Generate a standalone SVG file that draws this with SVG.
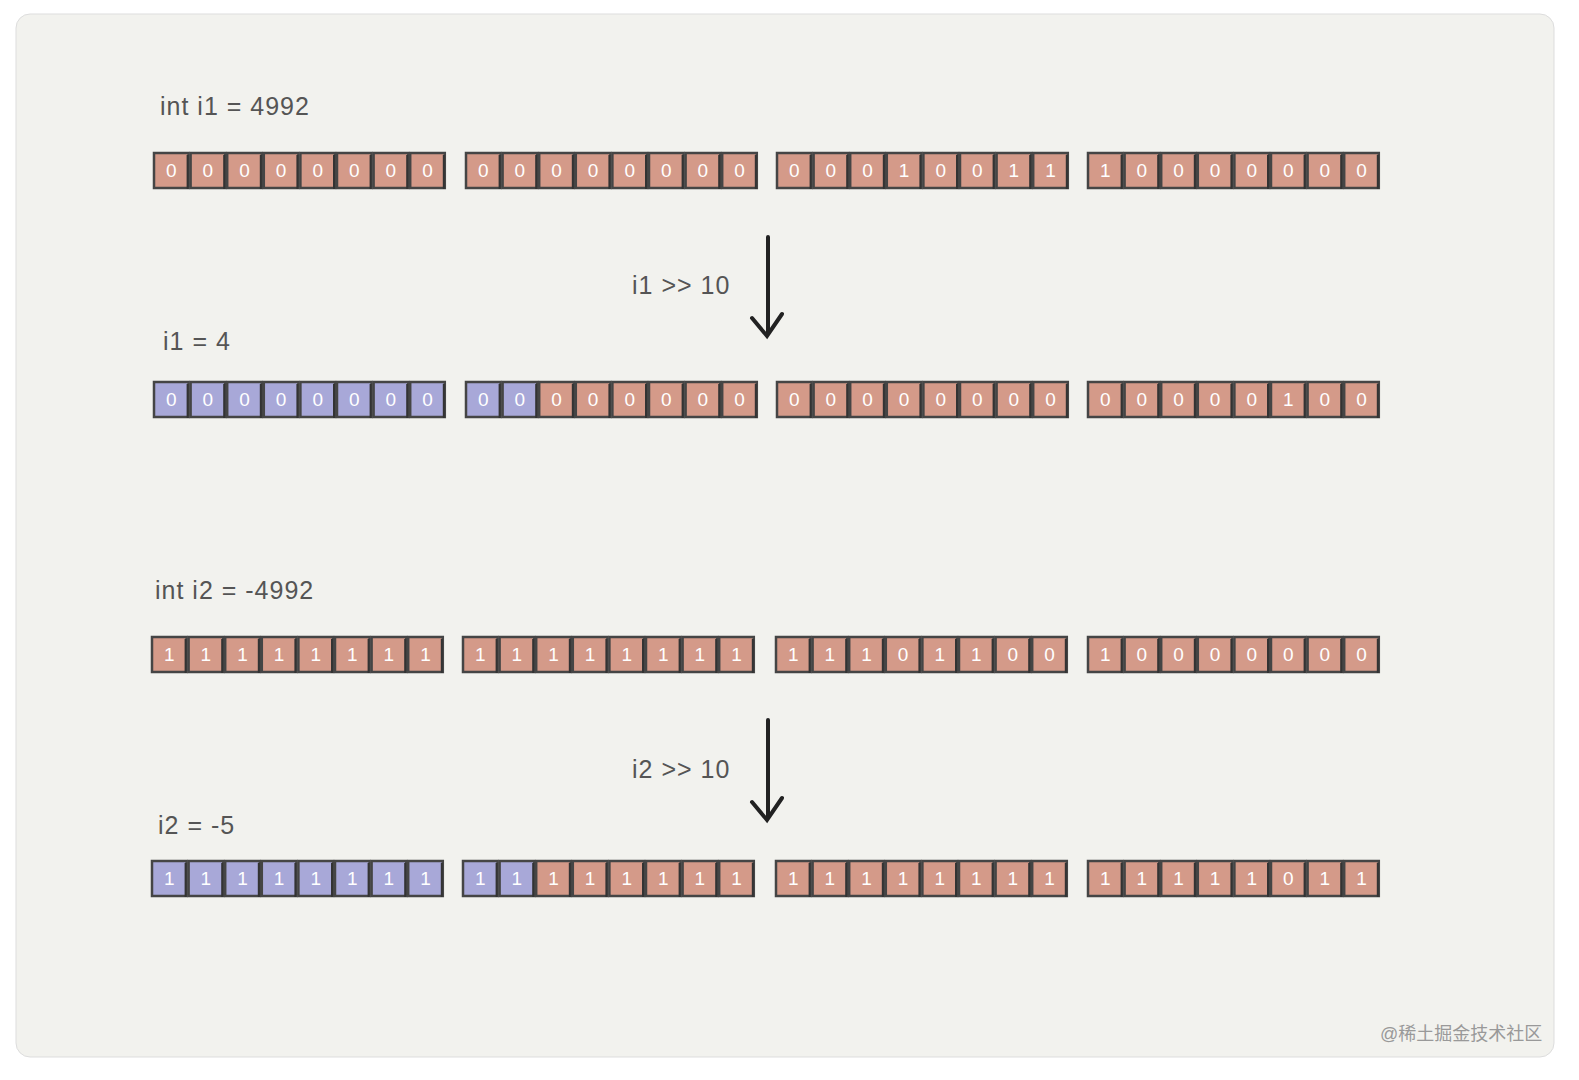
<svg xmlns="http://www.w3.org/2000/svg" xmlns:xlink="http://www.w3.org/1999/xlink" width="1579" height="1080" viewBox="0 0 1579 1080">
<style>
.lbl{font-family:"Liberation Sans",sans-serif;font-size:25px;fill:#555;letter-spacing:1px}
.bit{font-family:"Liberation Sans",sans-serif;font-size:19px;fill:#fff;text-anchor:middle}
.s{fill:#d49a89}.b{fill:#a8a8d8}
.cell{stroke:#454545;stroke-width:2.5}
.arr{stroke:#222;stroke-width:4;fill:none;stroke-linecap:round}
.wm{font-family:"Liberation Sans","Noto Sans CJK SC",sans-serif;font-size:18px;fill:#999}
</style>
<defs>
<g id="s0"><rect class="cell s" x="1" y="1" width="34.6" height="35"/><line x1="34.6" y1="3" x2="34.6" y2="37" stroke="#333" stroke-width="2"/><text class="bit" x="18.3" y="25">0</text></g>
<g id="s1"><rect class="cell s" x="1" y="1" width="34.6" height="35"/><line x1="34.6" y1="3" x2="34.6" y2="37" stroke="#333" stroke-width="2"/><text class="bit" x="18.3" y="25">1</text></g>
<g id="b0"><rect class="cell b" x="1" y="1" width="34.6" height="35"/><line x1="34.6" y1="3" x2="34.6" y2="37" stroke="#333" stroke-width="2"/><text class="bit" x="18.3" y="25">0</text></g>
<g id="b1"><rect class="cell b" x="1" y="1" width="34.6" height="35"/><line x1="34.6" y1="3" x2="34.6" y2="37" stroke="#333" stroke-width="2"/><text class="bit" x="18.3" y="25">1</text></g>
</defs>
<rect width="1579" height="1080" fill="#ffffff"/>
<rect x="16" y="14" width="1538" height="1043" rx="14" fill="#f2f2ee" stroke="#ddd" stroke-width="1"/>

<g id="labels">
<text class="lbl" x="160" y="115">int i1 = 4992</text>
<text class="lbl" x="632" y="294">i1 &gt;&gt; 10</text>
<text class="lbl" x="163" y="350">i1 = 4</text>
<text class="lbl" x="155" y="599">int i2 = -4992</text>
<text class="lbl" x="632" y="778">i2 &gt;&gt; 10</text>
<text class="lbl" x="158" y="834">i2 = -5</text>
</g>

<g id="connectors">
<path class="arr" d="M768 237 L768 333 M752 318 L767 336 L782 314"/>
<path class="arr" d="M768 720 L768 817 M752 802 L767 820 L782 798"/>
</g>

<g id="row1">
<g id="r1g1" transform="translate(153,152)"><use href="#s0" x="0"/><use href="#s0" x="36.6"/><use href="#s0" x="73.2"/><use href="#s0" x="109.8"/><use href="#s0" x="146.4"/><use href="#s0" x="183"/><use href="#s0" x="219.6"/><use href="#s0" x="256.2"/></g>
<g id="r1g2" transform="translate(465,152)"><use href="#s0" x="0"/><use href="#s0" x="36.6"/><use href="#s0" x="73.2"/><use href="#s0" x="109.8"/><use href="#s0" x="146.4"/><use href="#s0" x="183"/><use href="#s0" x="219.6"/><use href="#s0" x="256.2"/></g>
<g id="r1g3" transform="translate(776,152)"><use href="#s0" x="0"/><use href="#s0" x="36.6"/><use href="#s0" x="73.2"/><use href="#s1" x="109.8"/><use href="#s0" x="146.4"/><use href="#s0" x="183"/><use href="#s1" x="219.6"/><use href="#s1" x="256.2"/></g>
<g id="r1g4" transform="translate(1087,152)"><use href="#s1" x="0"/><use href="#s0" x="36.6"/><use href="#s0" x="73.2"/><use href="#s0" x="109.8"/><use href="#s0" x="146.4"/><use href="#s0" x="183"/><use href="#s0" x="219.6"/><use href="#s0" x="256.2"/></g>
</g>

<g id="row2">
<g id="r2g1" transform="translate(153,381)"><use href="#b0" x="0"/><use href="#b0" x="36.6"/><use href="#b0" x="73.2"/><use href="#b0" x="109.8"/><use href="#b0" x="146.4"/><use href="#b0" x="183"/><use href="#b0" x="219.6"/><use href="#b0" x="256.2"/></g>
<g id="r2g2" transform="translate(465,381)"><use href="#b0" x="0"/><use href="#b0" x="36.6"/><use href="#s0" x="73.2"/><use href="#s0" x="109.8"/><use href="#s0" x="146.4"/><use href="#s0" x="183"/><use href="#s0" x="219.6"/><use href="#s0" x="256.2"/></g>
<g id="r2g3" transform="translate(776,381)"><use href="#s0" x="0"/><use href="#s0" x="36.6"/><use href="#s0" x="73.2"/><use href="#s0" x="109.8"/><use href="#s0" x="146.4"/><use href="#s0" x="183"/><use href="#s0" x="219.6"/><use href="#s0" x="256.2"/></g>
<g id="r2g4" transform="translate(1087,381)"><use href="#s0" x="0"/><use href="#s0" x="36.6"/><use href="#s0" x="73.2"/><use href="#s0" x="109.8"/><use href="#s0" x="146.4"/><use href="#s1" x="183"/><use href="#s0" x="219.6"/><use href="#s0" x="256.2"/></g>
</g>

<g id="row3">
<g id="r3g1" transform="translate(151,636)"><use href="#s1" x="0"/><use href="#s1" x="36.6"/><use href="#s1" x="73.2"/><use href="#s1" x="109.8"/><use href="#s1" x="146.4"/><use href="#s1" x="183"/><use href="#s1" x="219.6"/><use href="#s1" x="256.2"/></g>
<g id="r3g2" transform="translate(462,636)"><use href="#s1" x="0"/><use href="#s1" x="36.6"/><use href="#s1" x="73.2"/><use href="#s1" x="109.8"/><use href="#s1" x="146.4"/><use href="#s1" x="183"/><use href="#s1" x="219.6"/><use href="#s1" x="256.2"/></g>
<g id="r3g3" transform="translate(775,636)"><use href="#s1" x="0"/><use href="#s1" x="36.6"/><use href="#s1" x="73.2"/><use href="#s0" x="109.8"/><use href="#s1" x="146.4"/><use href="#s1" x="183"/><use href="#s0" x="219.6"/><use href="#s0" x="256.2"/></g>
<g id="r3g4" transform="translate(1087,636)"><use href="#s1" x="0"/><use href="#s0" x="36.6"/><use href="#s0" x="73.2"/><use href="#s0" x="109.8"/><use href="#s0" x="146.4"/><use href="#s0" x="183"/><use href="#s0" x="219.6"/><use href="#s0" x="256.2"/></g>
</g>

<g id="row4">
<g id="r4g1" transform="translate(151,860)"><use href="#b1" x="0"/><use href="#b1" x="36.6"/><use href="#b1" x="73.2"/><use href="#b1" x="109.8"/><use href="#b1" x="146.4"/><use href="#b1" x="183"/><use href="#b1" x="219.6"/><use href="#b1" x="256.2"/></g>
<g id="r4g2" transform="translate(462,860)"><use href="#b1" x="0"/><use href="#b1" x="36.6"/><use href="#s1" x="73.2"/><use href="#s1" x="109.8"/><use href="#s1" x="146.4"/><use href="#s1" x="183"/><use href="#s1" x="219.6"/><use href="#s1" x="256.2"/></g>
<g id="r4g3" transform="translate(775,860)"><use href="#s1" x="0"/><use href="#s1" x="36.6"/><use href="#s1" x="73.2"/><use href="#s1" x="109.8"/><use href="#s1" x="146.4"/><use href="#s1" x="183"/><use href="#s1" x="219.6"/><use href="#s1" x="256.2"/></g>
<g id="r4g4" transform="translate(1087,860)"><use href="#s1" x="0"/><use href="#s1" x="36.6"/><use href="#s1" x="73.2"/><use href="#s1" x="109.8"/><use href="#s1" x="146.4"/><use href="#s0" x="183"/><use href="#s1" x="219.6"/><use href="#s1" x="256.2"/></g>
</g>

<text class="wm" x="1380" y="1040">@稀土掘金技术社区</text>
</svg>
